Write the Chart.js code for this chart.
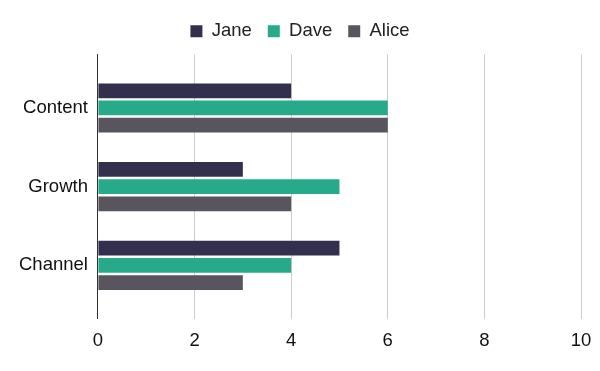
<!DOCTYPE html>
<html>
<head>
<meta charset="utf-8">
<script src="https://cdn.jsdelivr.net/npm/chart.js@4"></script>
<style>
  html, body { margin:0; padding:0; background:#fff; }
  #wrap { width:600px; height:371px; }
</style>
</head>
<body>
<div id="wrap"><canvas id="myChart"></canvas></div>
<script>
const categories = ['Content', 'Growth', 'Channel'];
const jane = [4, 3, 5];
const dave = [6, 5, 4];
const alice = [6, 4, 3];
const xTicks = [0, 2, 4, 6, 8, 10];

const colors = ['#33304d', '#27aa8a', '#58555f'];
const fontName = "'Liberation Sans', Arial, sans-serif";

// keep some empty room above and below the groups, like the original
function padCategories(scale){
    scale._startValue -= 0.18;
    scale._valueRange += 0.36;
}

// a bit more room under the legend
const legendGap = {
    id:'legendGap',
    beforeInit(chart){
        const fit = chart.legend.fit;
        chart.legend.fit = function(){
            fit.bind(chart.legend)();
            this.height += 4;
        };
    }
};

const ctx = document.querySelector('#myChart');
var myChart = new Chart(ctx, {
    type:'bar',
    data:{
        labels: categories,
        datasets: [
            { label:'Jane', data:jane, backgroundColor:colors[0] },
            { label:'Dave', data:dave, backgroundColor:colors[1] },
            { label:'Alice', data:alice, backgroundColor:colors[2] }
        ]
    },
    plugins:[legendGap],
    options:{
        indexAxis:'y',
        responsive:true,
        maintainAspectRatio:false,
        animation:false,
        categoryPercentage:0.657,
        barPercentage:0.855,
        layout:{ padding:{ top:6, right:1, left:1, bottom:8 } },
        plugins:{
            legend:{
                position:'top',
                labels:{
                    font:{ family:fontName, size:18.5 },
                    color:'#222',
                    boxWidth:12,
                    boxHeight:12,
                    padding:16
                }
            },
            tooltip:{ enabled:false }
        },
        scales:{
            x:{
                min:0,
                max:10,
                afterBuildTicks: (scale) => { scale.ticks = xTicks.map(v => ({value:v})); },
                afterFit: (scale) => { scale.paddingRight = 19; },
                grid:{ color:'#cccccc', drawTicks:false },
                border:{ display:false },
                ticks:{ font:{ family:fontName, size:18.5 }, color:'#111', padding:11 }
            },
            y:{
                afterBuildTicks: padCategories,
                afterFit: (scale) => { scale.width += 16; },
                grid:{ display:false },
                border:{ display:true, color:'#333333', width:1 },
                ticks:{ font:{ family:fontName, size:18.5 }, color:'#111', padding:2 }
            }
        }
    }
});
</script>
</body>
</html>
